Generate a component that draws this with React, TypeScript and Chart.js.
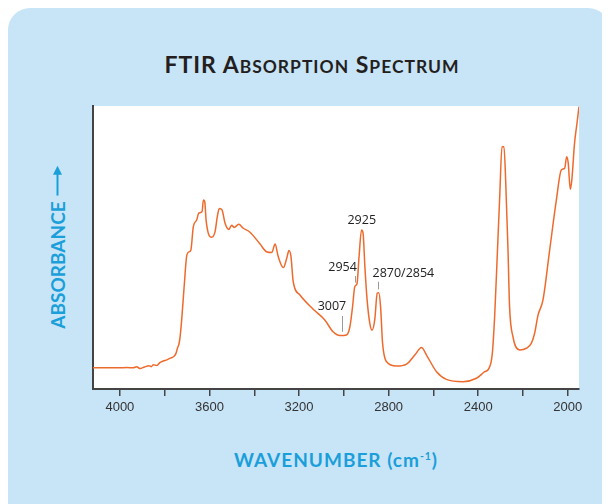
import React, { useEffect, useRef } from 'react';
import { Chart, registerables } from 'chart.js';
Chart.register(...registerables);

const wavenumbers = [
  4120, 4060, 4000, 3969, 3940, 3925, 3910, 3890, 3870, 3860, 3850, 3835, 3820, 3806, 3790, 3775, 3761, 3750, 3743, 3736,
  3731, 3723, 3713, 3701, 3690, 3683, 3672, 3657, 3648, 3633, 3627, 3621, 3615, 3605, 3590, 3575, 3565, 3556, 3544, 3530,
  3513, 3501, 3490, 3469, 3449, 3419, 3374, 3345, 3322, 3307, 3293, 3270, 3255, 3245, 3236, 3226, 3196, 3137, 3085, 3048,
  3018, 2988, 2973, 2961, 2951, 2941, 2932, 2921, 2914, 2906, 2896, 2884, 2874, 2862, 2851, 2844, 2836, 2827, 2809, 2765,
  2720, 2683, 2653, 2631, 2586, 2542, 2468, 2408, 2371, 2352, 2337, 2326, 2314, 2304, 2294, 2285, 2277, 2267, 2260, 2245,
  2215, 2185, 2163, 2148, 2133, 2111, 2081, 2051, 2029, 2014, 2005, 1998, 1989, 1982, 1970, 1959, 1950,
];
const absorbance = [
  7.5, 7.5, 7.5, 7.6, 7.5, 7.9, 7.2, 7.8, 8.2, 7.9, 8.6, 8.3, 9.4, 9.9, 10.3, 10.9, 11.4, 12.5, 14.4, 16.0,
  18.5, 25.5, 36.2, 47.3, 48.5, 49.1, 57.4, 59.7, 62.1, 62.7, 66.8, 66.2, 59.7, 55.0, 53.6, 55.6, 60.9, 63.8, 63.3, 58.5,
  56.4, 57.9, 57.1, 58.2, 56.8, 55.4, 51.2, 48.5, 48.2, 51.2, 46.8, 42.9, 46.2, 48.9, 46.8, 37.9, 33.2, 28.2, 24.4, 20.2,
  18.9, 19.1, 22.0, 29.1, 36.2, 37.3, 46.8, 56.2, 55.0, 43.2, 31.4, 23.2, 20.8, 24.4, 33.8, 34.0, 29.1, 16.1, 9.6, 8.1,
  8.8, 12.0, 14.7, 12.0, 6.1, 3.4, 2.6, 3.8, 6.1, 7.3, 12.6, 26.7, 49.1, 67.9, 85.6, 85.6, 72.7, 49.1, 29.1, 18.5,
  13.8, 14.4, 16.1, 19.7, 26.1, 31.4, 49.1, 66.8, 77.4, 78.0, 82.1, 79.8, 70.6, 73.9, 86.8, 93.9, 99.8,
];

const tickValues = [2000, 2200, 2400, 2600, 2800, 3000, 3200, 3400, 3600, 3800, 4000];
const labeledTicks = [2000, 2400, 2800, 3200, 3600, 4000];

const peakLabels = ['2925', '2954', '3007', '2870/2854'];
const peakLabelX = [2920, 2942, 3053, 2872];
const peakLabelY = [59.5, 42.9, 29.0, 40.9];
const peakLabelAlign = ['center', 'right', 'center', 'left'];
const peakLeaderX = [null, 2951, 3009, 2847];
const peakLeaderTop = [null, 39.9, 25.8, 37.9];
const peakLeaderBottom = [null, 37.6, 20.2, 35.2];

const CYAN = '#1A9FDA';

export default function App() {
  const canvasRef = useRef<HTMLCanvasElement | null>(null);

  useEffect(() => {
    document.documentElement.style.overflow = 'hidden';
    const canvas = canvasRef.current;
    if (!canvas) return;

    const bgPlugin = {
      id: 'plotBg',
      beforeDraw(chart: any) {
        const { ctx, chartArea } = chart;
        ctx.save();
        ctx.fillStyle = '#ffffff';
        ctx.fillRect(chartArea.left, chartArea.top, chartArea.right - chartArea.left, chartArea.bottom - chartArea.top);
        ctx.restore();
      },
    };

    const peakPlugin = {
      id: 'peaks',
      afterDatasetsDraw(chart: any) {
        const { ctx, scales } = chart;
        const xs = scales.x;
        const ys = scales.y;
        ctx.save();
        ctx.font = '12.5px "Open Sans", "Noto Sans", sans-serif';
        ctx.fillStyle = '#222222';
        ctx.textBaseline = 'middle';
        peakLabels.forEach((t, i) => {
          ctx.textAlign = peakLabelAlign[i] as CanvasTextAlign;
          ctx.fillText(t, xs.getPixelForValue(peakLabelX[i]), ys.getPixelForValue(peakLabelY[i]));
          const lx = peakLeaderX[i];
          if (lx !== null) {
            const px = Math.round(xs.getPixelForValue(lx)) + 0.5;
            ctx.strokeStyle = '#9a9a9a';
            ctx.lineWidth = 1;
            ctx.beginPath();
            ctx.moveTo(px, ys.getPixelForValue(peakLeaderTop[i] as number));
            ctx.lineTo(px, ys.getPixelForValue(peakLeaderBottom[i] as number));
            ctx.stroke();
          }
        });
        ctx.restore();
      },
    };

    const chart = new Chart(canvas, {
      type: 'line',
      data: {
        datasets: [
          {
            data: wavenumbers.map((w, i) => ({ x: w, y: absorbance[i] })),
            borderColor: '#EE6A2C',
            borderWidth: 1.5,
            pointRadius: 0,
            fill: false,
            cubicInterpolationMode: 'monotone',
          },
        ],
      },
      options: {
        animation: false,
        responsive: false,
        maintainAspectRatio: false,
        layout: { padding: { left: 13, top: 6, right: 21, bottom: 0 } },
        plugins: { legend: { display: false }, tooltip: { enabled: false }, title: { display: false } },
        scales: {
          x: {
            type: 'linear',
            reverse: true,
            min: 1950,
            max: 4120,
            afterBuildTicks: (axis: any) => {
              axis.ticks = tickValues.map((v) => ({ value: v }));
            },
            afterFit: (axis: any) => {
              axis.height = 31;
            },
            ticks: {
              autoSkip: false,
              maxRotation: 0,
              padding: 4,
              color: '#333333',
              font: { family: '"Liberation Sans", Arial, sans-serif', size: 13 },
              callback: (v: any) => (labeledTicks.includes(Number(v)) ? String(v) : ''),
            },
            grid: { drawOnChartArea: false, drawTicks: true, tickLength: 7, color: '#444444', lineWidth: 1.5 },
            border: { display: true, color: '#444444', width: 2 },
          },
          y: {
            min: 0,
            max: 100,
            afterFit: (axis: any) => {
              axis.width = 0;
            },
            ticks: { display: false },
            grid: { drawOnChartArea: false, drawTicks: false },
            border: { display: true, color: '#444444', width: 2 },
          },
        },
      },
      plugins: [bgPlugin, peakPlugin],
    } as any);

    return () => chart.destroy();
  }, []);

  return (
    <div
      style={{
        position: 'relative',
        width: 602,
        height: 496,
        background: '#C8E4F7',
        borderRadius: '22px 22px 0 0',
        overflow: 'hidden',
      }}
    >
      <div
        style={{
          position: 'absolute',
          left: 0,
          top: 45,
          width: 608,
          textAlign: 'center',
          fontFamily: 'Lato, "Open Sans", sans-serif',
          fontWeight: 700,
          fontSize: 23,
          lineHeight: '23px',
          letterSpacing: '1px',
          color: '#231F20',
          whiteSpace: 'nowrap',
        }}
      >
        FTIR A<span style={{ fontSize: '0.76em' }}>BSORPTION</span> S<span style={{ fontSize: '0.76em' }}>PECTRUM</span>
      </div>

      <div
        style={{
          position: 'absolute',
          left: 49,
          top: 238.5,
          transform: 'translate(-50%, -50%) rotate(-90deg)',
          fontFamily: 'Lato, "Open Sans", sans-serif',
          fontWeight: 700,
          fontSize: 19,
          lineHeight: '19px',
          color: CYAN,
          whiteSpace: 'nowrap',
          display: 'flex',
          alignItems: 'center',
        }}
      >
        <span>ABSORBANCE</span>
        <svg width="30" height="12" style={{ marginLeft: 6 }}>
          <line x1="0" y1="6" x2="24" y2="6" stroke={CYAN} strokeWidth="2" />
          <polygon points="30,6 21,1.5 21,10.5" fill={CYAN} />
        </svg>
      </div>

      <div
        style={{
          position: 'absolute',
          left: 328,
          top: 451,
          transform: 'translate(-50%, -50%)',
          fontFamily: 'Lato, "Open Sans", sans-serif',
          fontWeight: 700,
          fontSize: 19,
          lineHeight: '19px',
          letterSpacing: '1px',
          color: CYAN,
          whiteSpace: 'nowrap',
        }}
      >
        WAVENUMBER (cm<sup style={{ fontSize: '0.55em', verticalAlign: '0.6em', lineHeight: 0 }}>-1</sup>)
      </div>

      <div style={{ position: 'absolute', left: 72, top: 92, width: 520, height: 320 }}>
        <canvas ref={canvasRef} width={520} height={320} style={{ width: 520, height: 320, display: 'block' }} />
      </div>
    </div>
  );
}
